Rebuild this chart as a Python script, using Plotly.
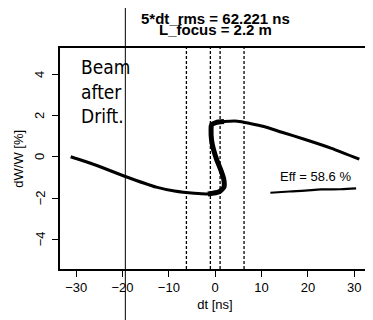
import plotly.graph_objects as go

# Beam particle distribution after drift
dt_ns = [-31.2, -26.0, -19.4, -12.7, -8.8, -4.5, -1.6, 0.85, 1.9, 1.8, 1.2, 0.35,
         -0.35, -0.8, -0.9, -0.8, 0.15, 1.9, 4.8, 7.5, 10.5, 14.4, 19.4, 25.1, 31.1]
dWW_pct = [0.01, -0.38, -0.95, -1.47, -1.66, -1.77, -1.8, -1.69, -1.45, -1.04, -0.63, -0.15,
           0.34, 0.83, 1.32, 1.56, 1.67, 1.72, 1.74, 1.63, 1.48, 1.2, 0.85, 0.42, -0.11]

# dense core (S-shaped part)
core_dt = [-1.6, 0.85, 1.9, 1.8, 1.2, 0.35, -0.35, -0.8, -0.9, -0.8, 0.15, 1.9]
core_dWW = [-1.8, -1.69, -1.45, -1.04, -0.63, -0.15, 0.34, 0.83, 1.32, 1.56, 1.67, 1.72]

# vertical dashed markers [ns]
vlines_dt = [-6.22, -1.05, 1.05, 6.22]

# handwritten underline stroke near the efficiency label
stroke_dt = [11.9, 16.0, 19.4, 22.9, 27.0, 30.4]
stroke_dWW = [-1.74, -1.68, -1.64, -1.58, -1.57, -1.53]

# handwritten vertical pen line (scan artefact)
pen_dt = -19.4

x_ticks = [-30, -20, -10, 0, 10, 20, 30]
y_ticks = [-4, -2, 0, 2, 4]
y_tick_labels = ["\u22124", "\u22122", "0", "2", "4"]

title_lines = ["5*dt_rms = 62.221 ns", "L_focus = 2.2 m"]
eff_label = "Eff = 58.6 %"
note_text = "Beam<br>after<br>Drift."
x_title = "dt [ns]"
y_title = "dW/W [%]"

FONT = "Liberation Sans, Arial"

fig = go.Figure()
fig.add_trace(go.Scatter(x=dt_ns, y=dWW_pct, mode="lines",
                         line=dict(color="black", width=3, shape="spline", smoothing=0.6),
                         showlegend=False, hoverinfo="skip"))
fig.add_trace(go.Scatter(x=core_dt, y=core_dWW, mode="lines",
                         line=dict(color="black", width=5, shape="spline", smoothing=0.6),
                         showlegend=False, hoverinfo="skip"))
fig.add_trace(go.Scatter(x=stroke_dt, y=stroke_dWW, mode="lines",
                         line=dict(color="black", width=2.2, shape="spline"),
                         showlegend=False, hoverinfo="skip"))

for v in vlines_dt:
    fig.add_shape(type="line", xref="x", yref="paper", x0=v, x1=v, y0=0, y1=1,
                  line=dict(color="black", width=1.3, dash="3px,2px"))

fig.add_shape(type="line", xref="x", yref="paper", x0=pen_dt, x1=pen_dt, y0=-0.3, y1=1.3,
              line=dict(color="black", width=1))

fig.add_annotation(text="<b>" + title_lines[0] + "</b>", xref="paper", yref="paper",
                   x=0.5, y=1.135, showarrow=False, yanchor="middle",
                   font=dict(family=FONT, size=15, color="black"))
fig.add_annotation(text="<b>" + title_lines[1] + "</b>", xref="paper", yref="paper",
                   x=0.5, y=1.083, showarrow=False, yanchor="middle",
                   font=dict(family=FONT, size=15, color="black"))
fig.add_annotation(text=eff_label, xref="x", yref="y", x=21.7, y=-0.96, showarrow=False,
                   font=dict(family=FONT, size=13, color="black"))
fig.add_annotation(text=note_text, xref="paper", yref="paper", x=0.06, y=0.975,
                   xanchor="left", yanchor="top", align="left", showarrow=False,
                   font=dict(family="DejaVu Sans Condensed, DejaVu Sans", size=19, color="black"))

# rotated y tick labels (R style, parallel to the axis)
for v, lab in zip(y_ticks, y_tick_labels):
    fig.add_annotation(text=lab, xref="paper", yref="y", x=-0.064, y=v, textangle=-90,
                       showarrow=False, xanchor="center", yanchor="middle",
                       font=dict(family=FONT, size=13, color="black"))
fig.add_annotation(text=y_title, xref="paper", yref="paper", x=-0.135, y=0.5, textangle=-90,
                   showarrow=False, xanchor="center", yanchor="middle",
                   font=dict(family=FONT, size=13, color="black"))

axis_common = dict(showline=True, linecolor="black", linewidth=1.5, mirror=True,
                   ticks="outside", ticklen=6, tickwidth=1.2, tickcolor="black",
                   showgrid=False, zeroline=False,
                   tickfont=dict(family=FONT, size=13, color="black"),
                   title_font=dict(family=FONT, size=13, color="black"))

fig.update_xaxes(range=[-33.5, 33.4], tickvals=x_ticks, title_text=x_title,
                 title_standoff=6, **axis_common)
fig.update_yaxes(range=[-5.45, 5.3], tickvals=y_ticks, showticklabels=False, **axis_common)

# page body has an 8px margin, so the figure is sized/offset to land the plot box
fig.update_layout(width=365, height=312, margin=dict(l=52, r=1, t=40, b=51),
                  plot_bgcolor="white", paper_bgcolor="white", showlegend=False)

fig.write_html("out.html")
